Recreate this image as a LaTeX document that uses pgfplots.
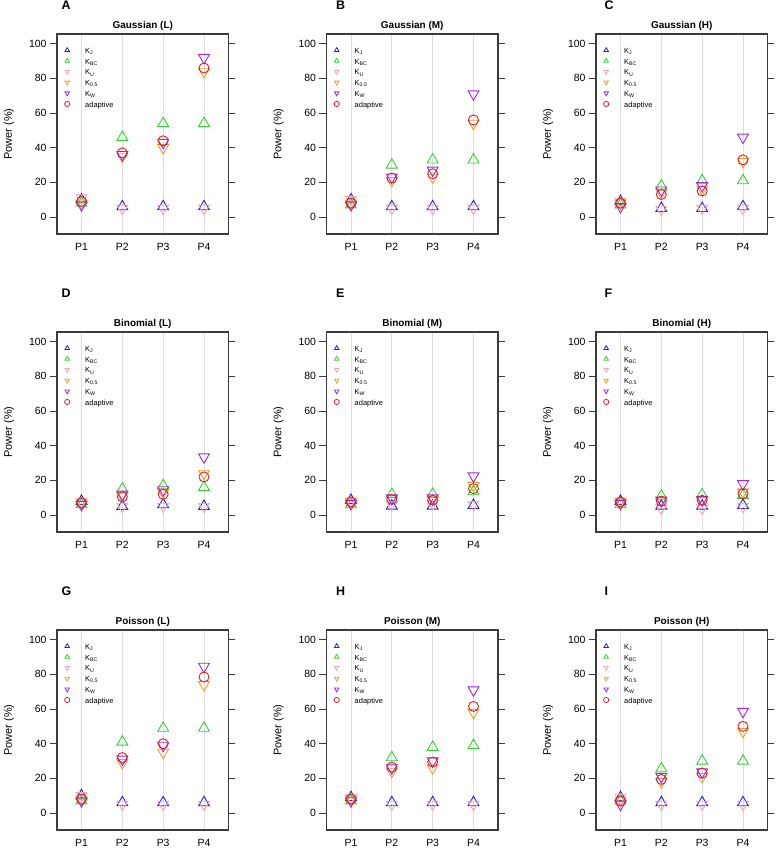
\documentclass[border=0pt]{standalone}
\usepackage{fontspec}
\setmainfont{Liberation Sans}
\usepackage{pgfplots}
\pgfplotsset{compat=1.18}
\usepackage{pgfplotstable}
\usepgfplotslibrary{groupplots}

\definecolor{cKJ}{RGB}{35,35,205}
\definecolor{cKBC}{RGB}{50,210,50}
\definecolor{cKU}{RGB}{245,165,185}
\definecolor{cK05}{RGB}{240,160,40}
\definecolor{cKW}{RGB}{160,40,235}
\definecolor{cAD}{RGB}{225,30,40}
\definecolor{frame}{RGB}{60,60,60}

% power (%) per panel, columns: position, K_J, K_BC, K_U, K_0.5, K_W, adaptive
\pgfplotstableread{
x kj kbc ku k05 kw ad
1 10 8 11 8 7 9
2 6 46 5 35 36 37
3 6 54 5 40 43 44
4 6 54 5 84 92 86
}\tA
\pgfplotstableread{
x kj kbc ku k05 kw ad
1 10 7 10 8 7 8
2 6 30 5 21 23 22.5
3 6 33 5 23 27 25
4 6 33 5 54 71 56
}\tB
\pgfplotstableread{
x kj kbc ku k05 kw ad
1 9 7 9 8 6 8
2 5 18 4.5 14 15.5 13
3 5 21 5 16 18 15
4 6 21 5 32 46 33
}\tC
\pgfplotstableread{
x kj kbc ku k05 kw ad
1 8 6 8 7 6 7
2 5 15 5 11 12 10.5
3 6 17 5 13 14.5 12
4 5 16 5 24 33.5 22
}\tD
\pgfplotstableread{
x kj kbc ku k05 kw ad
1 8.5 6 8 7.5 6.5 7.5
2 5.2 12 6 9.4 9.8 9
3 5.2 12 6.5 9 9.8 8.5
4 5.6 13.5 6 17 22.5 15.2
}\tE
\pgfplotstableread{
x kj kbc ku k05 kw ad
1 8 6 8 7.5 6.5 7.5
2 5.2 11 4 8 8.5 8
3 5.2 11.7 4 8.5 8.8 8.5
4 5.6 11.3 5 13.3 18 12.3
}\tF
\pgfplotstableread{
x kj kbc ku k05 kw ad
1 10 7 10 8 7 8
2 6 41 5 29 31 32
3 6 49 5 35 39 40
4 6 49 5 74 84.6 78.5
}\tG
\pgfplotstableread{
x kj kbc ku k05 kw ad
1 9 7 9 8 7 8
2 6 32 5 24 26 26.5
3 6 38 5 26 30 29.4
4 6 39 5 58 71 61.5
}\tH
\pgfplotstableread{
x kj kbc ku k05 kw ad
1 9 7 9 7 5 7
2 6 25.6 5 18 21 19.4
3 6 30 5 21 23.7 23
4 6 30 5 47 58.6 50
}\tI

\pgfplotsset{
  sUp/.style={only marks, mark=triangle, mark size=6.3bp, line width=0.9bp},
  sDn/.style={only marks, mark=triangle, mark size=6.3bp, line width=0.9bp,
    mark options={rotate=180}},
  sKJ/.style={sUp, color=cKJ},
  sKBC/.style={sUp, color=cKBC},
  sKU/.style={sDn, color=cKU},
  sK05/.style={sDn, color=cK05},
  sKW/.style={sDn, color=cKW},
  sAD/.style={only marks, mark=o, mark size=5bp, line width=0.9bp, color=cAD},
}

\newcommand{\panel}[1]{%
  \addplot[sKJ] table[x=x,y=kj]{#1};
  \addplot[sKBC] table[x=x,y=kbc]{#1};
  \addplot[sKU] table[x=x,y=ku]{#1};
  \addplot[sK05] table[x=x,y=k05]{#1};
  \addplot[sKW] table[x=x,y=kw]{#1};
  \addplot[sAD] table[x=x,y=ad]{#1};
  \legend{K\textsubscript{J}, K\textsubscript{BC}, K\textsubscript{U},
    K\textsubscript{0.5}, K\textsubscript{W}, adaptive}
}

\begin{document}
\begin{tikzpicture}
\begin{groupplot}[
  group style={group size=3 by 3, horizontal sep=98bp, vertical sep=98bp},
  scale only axis, width=171.5bp, height=200bp,
  xmin=0.4, xmax=4.6, ymin=-9.8, ymax=105.6,
  xtick={1,2,3,4}, xticklabels={P1,P2,P3,P4},
  xtick style={/pgfplots/major tick length=0pt},
  ytick={0,20,...,100}, ytick pos=both, yticklabel pos=left,
  tick align=outside, major tick length=7bp,
  every tick/.style={frame, line width=0.9bp},
  axis line style={frame, line width=1.1bp},
  xmajorgrids, major grid style={black!13, line width=0.8bp},
  tick label style={font=\fontsize{10.5}{12}\selectfont},
  /pgf/number format/assume math mode=true,
  xticklabel style={yshift=1bp},
  ylabel={Power (\%)},
  ylabel style={at={(axis description cs:-0.2799,0.5)}, anchor=center,
    font=\fontsize{11}{13}\selectfont},
  title style={at={(axis description cs:0.5,1)}, anchor=base, yshift=-0.5bp,
    font=\bfseries\fontsize{10}{12}\selectfont},
  legend style={at={(axis description cs:0,1)}, anchor=north west,
    xshift=5bp, yshift=-13.1bp, draw=none, fill=none, inner sep=0pt,
    row sep=0pt, font=\fontsize{7.5}{8}\selectfont,
    nodes={inner sep=0pt, text height=5.6bp, text depth=4.7bp}},
  legend cell align=left,
  legend image code/.code={%
    \path[draw=none, fill=none] (-5bp,-4.7bp) rectangle (18bp,5.6bp);
    \draw[#1, mark size=2.6bp, line width=0.8bp] plot coordinates {(0bp,2.7bp)};},
]
\nextgroupplot[title={Gaussian (L)}]
\panel{\tA}
\nextgroupplot[title={Gaussian (M)}]
\panel{\tB}
\nextgroupplot[title={Gaussian (H)}]
\panel{\tC}
\nextgroupplot[title={Binomial (L)}]
\panel{\tD}
\nextgroupplot[title={Binomial (M)}]
\panel{\tE}
\nextgroupplot[title={Binomial (H)}]
\panel{\tF}
\nextgroupplot[title={Poisson (L)}]
\panel{\tG}
\nextgroupplot[title={Poisson (M)}]
\panel{\tH}
\nextgroupplot[title={Poisson (H)}]
\panel{\tI}
\end{groupplot}
\begin{scope}[every node/.style={font=\bfseries\fontsize{12.5}{14}\selectfont, anchor=west}]
\node at ([shift={(1bp,28.5bp)}]group c1r1.north west) {A};
\node at ([shift={(6bp,28.5bp)}]group c2r1.north west) {B};
\node at ([shift={(5bp,28.5bp)}]group c3r1.north west) {C};
\node at ([shift={(1bp,38.5bp)}]group c1r2.north west) {D};
\node at ([shift={(6bp,38.5bp)}]group c2r2.north west) {E};
\node at ([shift={(5bp,38.5bp)}]group c3r2.north west) {F};
\node at ([shift={(1bp,38.5bp)}]group c1r3.north west) {G};
\node at ([shift={(6bp,38.5bp)}]group c2r3.north west) {H};
\node at ([shift={(5bp,38.5bp)}]group c3r3.north west) {I};
\end{scope}
\pgfresetboundingbox
\path[use as bounding box] ([shift={(-57bp,34bp)}]group c1r1.north west)
  rectangle ([shift={(722bp,-817bp)}]group c1r1.north west);
\end{tikzpicture}
\end{document}
